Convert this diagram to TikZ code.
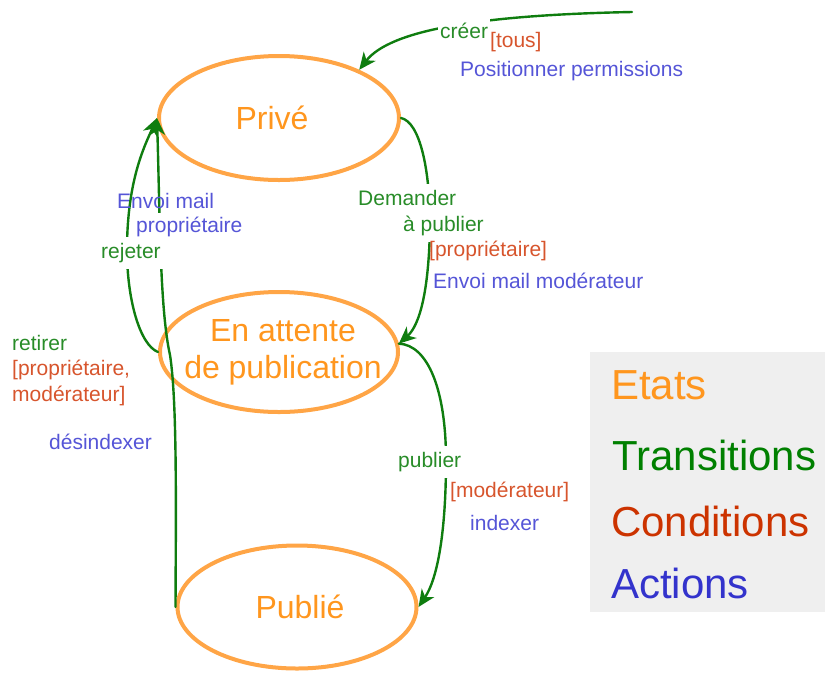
\documentclass[tikz,border=0pt]{standalone}
\usepackage{fontspec}
\setmainfont{Liberation Sans}
\usepackage{tikz}
\usetikzlibrary{arrows.meta, shapes.geometric}
\definecolor{etatline}{RGB}{255,165,70}
\definecolor{etattext}{RGB}{255,150,30}
\definecolor{transline}{RGB}{15,125,15}
\definecolor{transtext}{RGB}{40,140,40}
\definecolor{condtext}{RGB}{215,85,45}
\definecolor{acttext}{RGB}{85,85,215}
\definecolor{legfond}{RGB}{239,239,239}
\definecolor{legtrans}{RGB}{0,128,0}
\definecolor{legcond}{RGB}{204,51,0}
\definecolor{legact}{RGB}{51,51,204}

\begin{document}
\begin{tikzpicture}[x=1pt, y=-1pt,
    etat/.style={draw=etatline, line width=4pt, ellipse, inner sep=0pt},
    etatlbl/.style={text=etattext, align=center, font=\fontsize{32}{37}\selectfont},
    fleche/.style={draw=transline, line width=2.4pt, line cap=round, -{Stealth[length=17pt, width=15pt, inset=5pt]}},
    lbl/.style={anchor=west, inner sep=2pt, font=\fontsize{21}{26}\selectfont},
    masque/.style={lbl, fill=white, inner ysep=6pt},
    leg/.style={anchor=west, inner sep=0pt, font=\fontsize{42}{48}\selectfont}]
            \useasboundingbox (0,0) rectangle (825,673);
            \node (prive) at (279,118) [etat, minimum width=240, minimum height=124,
                label={[etatlbl, xshift=-7]center:Privé}] {};
            \node (attente) at (279,352) [etat, minimum width=238, minimum height=120,
                label={[etatlbl, xshift=4]center:En attente\\de publication}] {};
            \node (publie) at (297,607) [etat, minimum width=239, minimum height=123,
                label={[etatlbl, xshift=3]center:Publié}] {};
            \coordinate (depart) at (632,12);
            % transitions
            \draw[fleche] (depart) .. controls (480,15) and (390,30) .. (prive.31);
            \draw[fleche] (prive.east) .. controls (420,122) and (430,170) .. (430,225)
                .. controls (429,290) and (420,325) .. (attente.4);
            \draw[fleche] (attente.4) .. controls (428,345) and (446,390) .. (446,460)
                .. controls (446,530) and (438,578) .. (publie.east);
            \draw[fleche] (attente.west) .. controls (140,345) and (127,300) .. (127,250)
                .. controls (127,180) and (145,145) .. (prive.west);
            \draw[fleche] (publie.west) .. controls (176,500) and (177,400) .. (170,355)
                .. controls (160,310) and (160,220) .. (prive.west);
            % labels
            \node (creer) at (438,31) [masque, text=transtext] {créer};
            \node (tous) at (488,42) [lbl, text=condtext] {[tous]};
            \node (permissions) at (458,71) [lbl, text=acttext] {Positionner permissions};
            \node (demander) at (356,213) [masque, text=transtext, align=left]
                {Demander\\\hspace*{45pt}à publier};
            \node (proprio) at (427,251) [lbl, text=condtext] {[propriétaire]};
            \node (mailmod) at (431,281) [lbl, text=acttext] {Envoi mail modérateur};
            \node (mail) at (115,201) [lbl, text=acttext] {Envoi mail};
            \node (mailprop) at (134,227) [masque, inner ysep=4pt, text=acttext] {propriétaire};
            \node (rejeter) at (99,253) [masque, text=transtext] {rejeter};
            \node (retirer) at (10,343) [lbl, text=transtext] {retirer};
            \node (propmod) at (10,383) [lbl, text=condtext, align=left] {[propriétaire,\\modérateur]};
            \node (desindexer) at (47,442) [lbl, text=acttext] {désindexer};
            \node (publier) at (396,462) [masque, text=transtext] {publier};
            \node (moderateur) at (448,492) [lbl, text=condtext] {[modérateur]};
            \node (indexer) at (468,523) [lbl, text=acttext] {indexer};
            % legende
            \node (legende) at (707.5,482) [fill=legfond, inner sep=0pt,
                minimum width=235, minimum height=260] {};
            \node (etats) at (611,385) [leg, text=etattext] {Etats};
            \node (transitions) at (612,455) [leg, text=legtrans] {Transitions};
            \node (conditions) at (611,521) [leg, text=legcond] {Conditions};
            \node (actions) at (611,583) [leg, text=legact] {Actions};
        \end{tikzpicture}
\end{document}
